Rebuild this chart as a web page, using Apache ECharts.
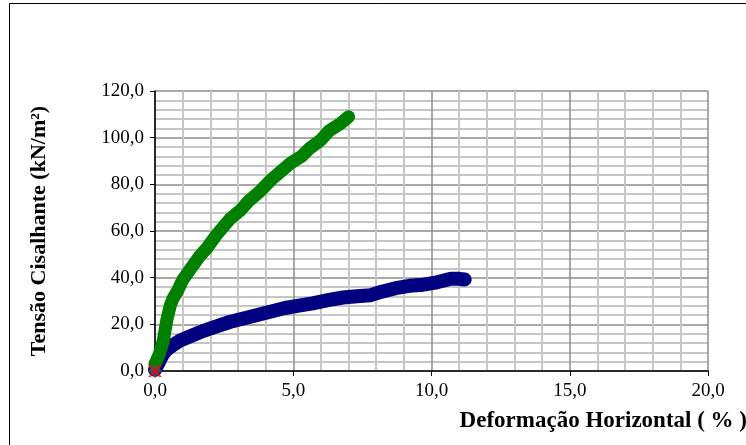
<!DOCTYPE html>
<html><head><meta charset="utf-8">
<script src="https://cdn.jsdelivr.net/npm/echarts@6/dist/echarts.min.js"></script>
<style>html,body{margin:0;padding:0;background:#fff}#c{width:746px;height:445px}</style>
</head><body><div id="c"></div>
<script>
const xTicks = [0, 5, 10, 15, 20];
const yTicks = [0, 20, 40, 60, 80, 100, 120];
const greenX = [0, 0.15, 0.3, 0.43, 0.55, 0.65, 0.8, 1.0, 1.3, 1.6, 1.9, 2.2, 2.7, 3.1, 3.4, 3.8, 4.2, 4.6, 4.9, 5.3, 5.6, 6.0, 6.3, 6.7, 7.0];
const greenY = [3, 7, 13, 22, 28, 31, 34, 39, 44, 49, 53, 58, 65, 69, 73, 77, 82, 86, 89, 92, 95.5, 99, 103, 106, 109];
const blueX = [0, 0.15, 0.3, 0.45, 0.7, 0.9, 1.3, 1.7, 2.2, 2.7, 3.2, 3.7, 4.2, 4.7, 5.2, 5.7, 6.3, 6.8, 7.3, 7.8, 8.2, 8.7, 9.2, 9.7, 10.2, 10.7, 11.0, 11.2];
const blueY = [0.5, 4, 7.5, 9.5, 11.5, 13, 15, 17, 19, 21, 22.5, 24, 25.5, 27, 28, 29, 30.5, 31.5, 32, 32.5, 34, 35.5, 36.5, 37, 38, 39.5, 39.5, 39.2];
const originX = [0];
const originY = [0];

const fmt = v => v.toFixed(1).replace('.', ',');
const zip = (a, b) => a.map((v, i) => [v, b[i]]);
const serif = '"Liberation Serif", "Times New Roman", serif';

const chart = echarts.init(document.getElementById('c'), null, {renderer: 'canvas'});
chart.setOption({
  animation: false,
  backgroundColor: '#fff',
  grid: {left: 155, right: 38, top: 91, bottom: 74, containLabel: false, outerBoundsMode: 'none'},
  graphic: [{type: 'rect', shape: {x: 9.5, y: 3.5, width: 800, height: 500}, style: {fill: 'none', stroke: '#000', lineWidth: 1}, z: -1}],
  xAxis: {
    type: 'value', min: xTicks[0], max: xTicks[xTicks.length - 1], interval: 5,
    name: 'Deformação Horizontal ( % )', nameLocation: 'end', nameGap: 0,
    nameTextStyle: {fontFamily: serif, fontWeight: 'bold', fontSize: 23, color: '#000', align: 'right', verticalAlign: 'top', padding: [39, -39, 0, 0]},
    axisLine: {show: true, onZero: false, lineStyle: {color: '#000', width: 1.5}},
    axisTick: {show: true, length: 5, lineStyle: {color: '#000'}},
    axisLabel: {formatter: fmt, fontFamily: serif, fontSize: 19, color: '#000', margin: 11},
    splitLine: {show: true, lineStyle: {color: '#8c8c8c', width: 1.5}},
    minorTick: {show: false, splitNumber: 5},
    minorSplitLine: {show: true, lineStyle: {color: '#c6c6c6', width: 2}}
  },
  yAxis: {
    type: 'value', min: yTicks[0], max: yTicks[yTicks.length - 1], interval: 20,
    name: 'Tensão Cisalhante (kN/m²)', nameLocation: 'middle', nameGap: 105, nameRotate: 90,
    nameTextStyle: {fontFamily: serif, fontWeight: 'bold', fontSize: 22, color: '#000'},
    axisLine: {show: true, onZero: false, lineStyle: {color: '#000', width: 1.5}},
    axisTick: {show: true, length: 5, lineStyle: {color: '#000'}},
    axisLabel: {formatter: fmt, fontFamily: serif, fontSize: 19, color: '#000', margin: 11},
    splitLine: {show: true, lineStyle: {color: '#8c8c8c', width: 1.5}},
    minorTick: {show: false, splitNumber: 5},
    minorSplitLine: {show: true, lineStyle: {color: '#c6c6c6', width: 2}}
  },
  series: [
    {type: 'line', data: zip(blueX, blueY), showSymbol: false, lineStyle: {color: '#000080', width: 14, cap: 'round', join: 'round'}, z: 3},
    {type: 'line', data: zip(greenX, greenY), showSymbol: false, lineStyle: {color: '#008000', width: 13, cap: 'round', join: 'round'}, z: 4},
    {type: 'scatter', data: zip(originX, originY), symbol: 'diamond', symbolSize: 14, itemStyle: {color: '#555'}, z: 5},
    {type: 'scatter', data: zip(originX, originY), symbol: 'path://M0,0L2,0L5,3L8,0L10,0L6,4L10,8L8,8L5,5L2,8L0,8L4,4Z', symbolSize: [14, 12], itemStyle: {color: '#ff0000'}, z: 6}
  ]
});
</script></body></html>
